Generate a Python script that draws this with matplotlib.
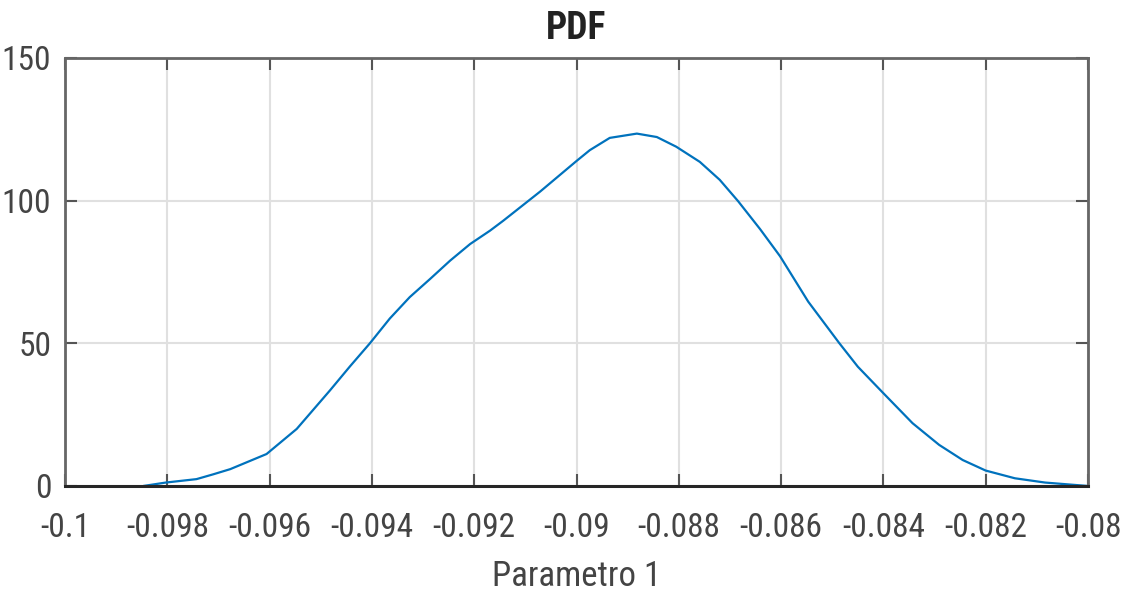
"""Kernel density estimate of parameter 1, drawn MATLAB-style."""

import matplotlib

matplotlib.use("Agg")
import matplotlib.pyplot as plt  # noqa: E402
from matplotlib import font_manager  # noqa: E402

# estimated density of parameter 1
param_x = [
    -0.09847, -0.09803, -0.09743, -0.09710, -0.09677, -0.09606, -0.09547,
    -0.09482, -0.09443, -0.09404, -0.09365, -0.09326, -0.09286, -0.09247,
    -0.09208, -0.09169, -0.09143, -0.09071, -0.09000, -0.08974, -0.08935,
    -0.08882, -0.08843, -0.08805, -0.08759, -0.08720, -0.08684, -0.08641,
    -0.08602, -0.08547, -0.08486, -0.08450, -0.08400, -0.08343, -0.08291,
    -0.08245, -0.08200, -0.08143, -0.08084, -0.08000,
]
density = [
    0.0, 1.2, 2.4, 4.1, 5.9, 11.2, 20.0,
    33.5, 41.9, 50.0, 58.7, 66.2, 72.6, 79.0,
    84.8, 89.5, 93.0, 103.2, 113.9, 117.7, 122.0,
    123.5, 122.3, 118.9, 113.6, 107.3, 99.8, 90.0,
    80.5, 64.6, 50.0, 41.8, 32.5, 22.0, 14.4,
    9.1, 5.4, 2.7, 1.2, 0.0,
]

x_ticks = [-0.1, -0.098, -0.096, -0.094, -0.092, -0.09, -0.088, -0.086,
           -0.084, -0.082, -0.08]
x_tick_labels = ["-0.1", "-0.098", "-0.096", "-0.094", "-0.092", "-0.09",
                 "-0.088", "-0.086", "-0.084", "-0.082", "-0.08"]
y_ticks = [0, 50, 100, 150]

available = {f.name for f in font_manager.fontManager.ttflist}
family = "Roboto Condensed" if "Roboto Condensed" in available else "Liberation Sans"
plt.rcParams["font.family"] = [family, "DejaVu Sans"]

text_col = "#444444"
fig = plt.figure(figsize=(11.27, 5.96), dpi=100)
ax = fig.add_axes([0.0577, 0.1846, 0.9077, 0.7181])

ax.plot(param_x, density, color="#0072BD", lw=1.6, solid_capstyle="round")

ax.set_xlim(-0.1, -0.08)
ax.set_ylim(0, 150)
ax.set_xticks(x_ticks)
ax.set_xticklabels(x_tick_labels)
ax.set_yticks(y_ticks)
ax.grid(True, color="#e0e0e0", lw=1.5)
ax.set_axisbelow(True)

ax.tick_params(direction="in", length=8.5, width=1.5, color="#555555",
               labelsize=24, labelcolor=text_col, top=True, right=True)
ax.tick_params(axis="x", pad=19)
ax.tick_params(axis="y", pad=10)
for side in ["left", "top", "right"]:
    ax.spines[side].set_color("#666666")
    ax.spines[side].set_linewidth(2.0)
ax.spines["bottom"].set_color("#262626")
ax.spines["bottom"].set_linewidth(2.2)

ax.set_title("PDF", fontsize=27, fontweight="bold", color="#222222", pad=14)
ax.set_xlabel("Parametro 1", fontsize=25, color=text_col, labelpad=11)

fig.savefig("out.png", dpi=100)
